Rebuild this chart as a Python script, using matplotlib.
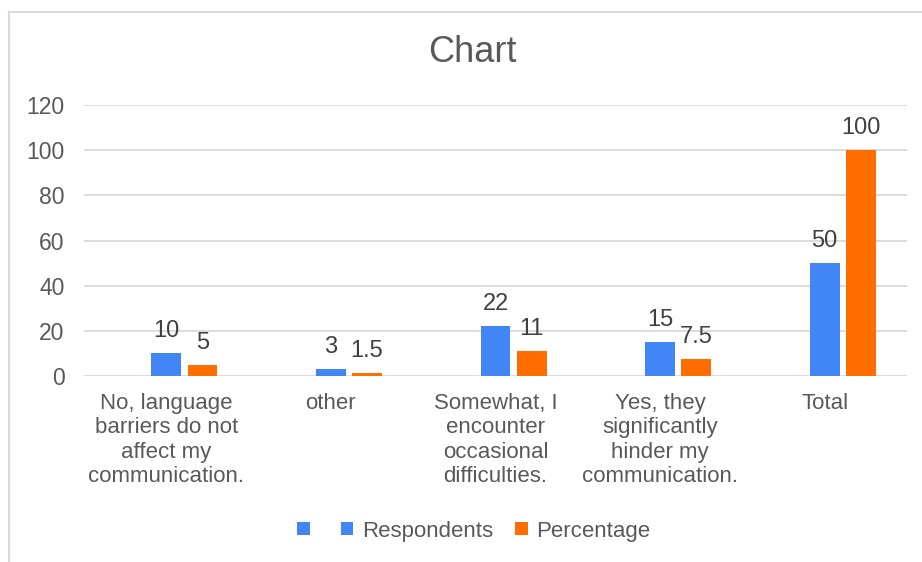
#!/usr/bin/env python3
"""Language barriers survey: respondents and percentage per answer."""

import matplotlib
matplotlib.use("Agg")
import matplotlib.pyplot as plt
from matplotlib.lines import Line2D
import numpy as np


CATEGORIES = [
    "No, language\nbarriers do not\naffect my\ncommunication.",
    "other",
    "Somewhat, I\nencounter\noccasional\ndifficulties.",
    "Yes, they\nsignificantly\nhinder my\ncommunication.",
    "Total",
]
BLANK = [0, 0, 0, 0, 0]
RESPONDENTS = [10, 3, 22, 15, 50]
PERCENTAGE = [5, 1.5, 11, 7.5, 100]
Y_TICKS = [0, 20, 40, 60, 80, 100, 120]

BLUE = "#4285f4"
ORANGE = "#ff6d01"
TEXT = "#595959"


def fmt(v):
    return f"{v:g}"


def main():
    plt.rcParams["font.family"] = ["Liberation Sans", "DejaVu Sans"]

    fig = plt.figure(figsize=(9.22, 5.62), dpi=100)
    ax = fig.add_axes([84 / 922, 1 - 376 / 562, (907 - 84) / 922, (376 - 105) / 562])

    x = np.arange(len(CATEGORIES))
    w = 0.18
    off = 0.22

    blank = ax.bar(x - off, BLANK, w, color=BLUE, linewidth=0, zorder=3)
    resp = ax.bar(x, RESPONDENTS, w, color=BLUE, linewidth=0, zorder=3)
    perc = ax.bar(x + off, PERCENTAGE, w, color=ORANGE, linewidth=0, zorder=3)

    for bars, vals in ((resp, RESPONDENTS), (perc, PERCENTAGE)):
        for b, v in zip(bars, vals):
            ax.annotate(fmt(v), (b.get_x() + b.get_width() / 2, v),
                        xytext=(0, 8), textcoords="offset points",
                        ha="center", va="bottom", fontsize=17, color="#404040")

    ax.set_xlim(-0.5, len(CATEGORIES) - 0.5)
    ax.set_ylim(0, 120)
    ax.set_yticks(Y_TICKS)
    ax.set_xticks(x)
    ax.set_xticklabels(CATEGORIES, fontsize=16, color=TEXT, linespacing=1.22)
    ax.tick_params(axis="x", length=0, pad=12)
    ax.tick_params(axis="y", length=0, pad=14, labelsize=16.5, labelcolor=TEXT)
    for s in ax.spines.values():
        s.set_visible(False)
    ax.grid(axis="y", color="#d9d9d9", lw=1.3, zorder=0)
    ax.set_axisbelow(True)

    fig.text(472 / 922, 1 - 53 / 562, "Chart", ha="center", va="center",
             fontsize=26, color=TEXT)

    fig.legend([blank, resp, perc], ["", "Respondents", "Percentage"],
               loc="center", bbox_to_anchor=(474 / 922, 1 - 531 / 562),
               ncol=3, frameon=False, fontsize=16, labelcolor=TEXT,
               handlelength=0.55, handleheight=0.55, handletextpad=0.4,
               columnspacing=1.0)

    # chart frame (only left and top edges visible in the crop)
    fig.add_artist(Line2D([9 / 922, 9 / 922], [0, 1 - 12 / 562],
                          transform=fig.transFigure, color="#d9d9d9", lw=1.5))
    fig.add_artist(Line2D([9 / 922, 1], [1 - 12 / 562, 1 - 12 / 562],
                          transform=fig.transFigure, color="#d9d9d9", lw=1.5))

    fig.savefig("out.png", dpi=100)
    plt.close(fig)


if __name__ == "__main__":
    main()
